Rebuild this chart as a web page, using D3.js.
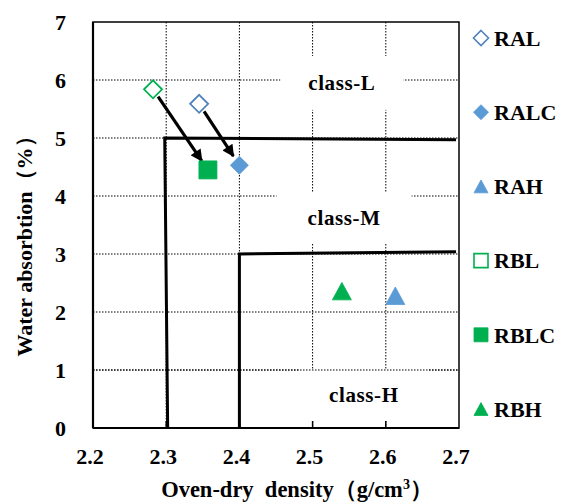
<!DOCTYPE html>
<html>
<head>
<meta charset="utf-8">
<script src="https://cdn.jsdelivr.net/npm/d3@7"></script>
<style>
  body { margin: 0; background: #fff; }
  svg text { font-family: "Liberation Serif", "Times New Roman", serif; font-weight: bold; fill: #000; }
</style>
</head>
<body>
<div id="svg-container"></div>
<script>
////////////////////////////  Data  ///////////////////////////////
const seriesNames = ["RAL", "RALC", "RAH", "RBL", "RBLC", "RBH"];
const densities = [2.345, 2.4, 2.613, 2.282, 2.357, 2.54];
const absorptions = [5.59, 4.53, 2.28, 5.84, 4.45, 2.36];
const seriesColors = ["#4f81bd", "#5b9bd5", "#5b9bd5", "#00b050", "#00b050", "#00b050"];
const seriesFilled = [false, true, true, false, true, true];
const plotShapes = ["diamond", "diamond", "triangle", "diamond", "square", "triangle"];
const legendShapes = ["diamond", "diamond", "triangle", "square", "square", "triangle"];

// arrows: from -> to
const arrowPairs = [["RBL", "RBLC"], ["RAL", "RALC"]];

// class boundary lines
const boundaryL = [[2.302, 0], [2.298, 5], [2.696, 4.97]];
const boundaryM = [[2.4, 0], [2.4, 3.0], [2.696, 3.04]];

// class labels
const classLabels = ["class-L", "class-M", "class-H"];
const classLabelX = [2.54, 2.543, 2.57];
const classLabelY = [5.95, 3.62, 0.57];

const xTicks = [2.2, 2.3, 2.4, 2.5, 2.6, 2.7];
const yTicks = [0, 1, 2, 3, 4, 5, 6, 7];

////////////////////////////  Init  ///////////////////////////////
const width = 567;
const height = 504;
const margin = { top: 22, right: 108, bottom: 76, left: 93 };

const svg = d3.select("#svg-container").append("svg")
  .attr("width", width).attr("height", height);

const xScale = d3.scaleLinear().domain([2.2, 2.7]).range([margin.left, width - margin.right]);
const yScale = d3.scaleLinear().domain([0, 7]).range([height - margin.bottom, margin.top]);

const x0 = xScale.range()[0], x1 = xScale.range()[1];
const yb = yScale.range()[0], yt = yScale.range()[1];

// shape path helper (s = box size)
function shapePath(shape, s) {
  const h = s / 2;
  if (shape === "diamond") return `M0,${-h}L${h},0L0,${h}L${-h},0Z`;
  if (shape === "square") return `M${-h},${-h}H${h}V${h}H${-h}Z`;
  const th = s * 0.92 / 2;
  return `M0,${-th}L${h},${th}L${-h},${th}Z`;
}

const innerX = xTicks.filter((d) => d > 2.2 && d < 2.7);

// gridlines
svg.append("g").selectAll("line")
  .data(yTicks.filter((d) => d > 0 && d < 7))
  .join("line")
  .attr("x1", x0).attr("x2", x1)
  .attr("y1", (d) => yScale(d)).attr("y2", (d) => yScale(d))
  .attr("stroke", "#000").attr("stroke-width", 1).attr("stroke-dasharray", "1.5,1.5");

svg.append("g").selectAll("line")
  .data(innerX)
  .join("line")
  .attr("x1", (d) => xScale(d)).attr("x2", (d) => xScale(d))
  .attr("y1", yt).attr("y2", yb)
  .attr("stroke", "#000").attr("stroke-width", 1).attr("stroke-dasharray", "1.5,1.5");

// white boxes behind class labels
const boxW = [123, 135, 130];
const boxH = [54, 50, 52];
classLabels.forEach((t, i) => {
  const cx = xScale(classLabelX[i]);
  const cy = yScale(classLabelY[i]);
  svg.append("rect")
    .attr("x", cx - boxW[i] / 2).attr("y", cy - boxH[i] / 2)
    .attr("width", boxW[i]).attr("height", boxH[i])
    .attr("fill", "#fff");
});

// inner ticks on the bottom (over the class-H box)
svg.append("g").selectAll("line")
  .data(innerX)
  .join("line")
  .attr("x1", (d) => xScale(d)).attr("x2", (d) => xScale(d))
  .attr("y1", yb - 7).attr("y2", yb)
  .attr("stroke", "#000").attr("stroke-width", 1.5);

svg.append("line")
  .attr("x1", x0).attr("x2", x1)
  .attr("y1", yScale(1)).attr("y2", yScale(1))
  .attr("stroke", "#000").attr("stroke-width", 1).attr("stroke-dasharray", "1.5,1.5");

// frame
svg.append("rect")
  .attr("x", x0).attr("y", yt)
  .attr("width", x1 - x0).attr("height", yb - yt)
  .attr("fill", "none").attr("stroke", "#000").attr("stroke-width", 1.5);
svg.append("line").attr("x1", x0).attr("x2", x0).attr("y1", yt).attr("y2", yb)
  .attr("stroke", "#000").attr("stroke-width", 2.2);
svg.append("line").attr("x1", x0).attr("x2", x1).attr("y1", yb).attr("y2", yb)
  .attr("stroke", "#000").attr("stroke-width", 2.2);

// class labels
svg.append("g").selectAll("text")
  .data(classLabels)
  .join("text")
  .attr("x", (d, i) => xScale(classLabelX[i]))
  .attr("y", (d, i) => yScale(classLabelY[i]))
  .attr("dy", "0.35em")
  .attr("text-anchor", "middle")
  .attr("font-size", 21)
  .attr("letter-spacing", 0.6)
  .text((d) => d);

// boundary lines
const line = d3.line().x((d) => xScale(d[0])).y((d) => yScale(d[1]));
[boundaryL, boundaryM].forEach((b) => {
  svg.append("path")
    .attr("d", line(b))
    .attr("fill", "none").attr("stroke", "#000").attr("stroke-width", 3);
});

// arrows
svg.append("defs").append("marker")
  .attr("id", "arrowhead")
  .attr("viewBox", "0 0 10 10")
  .attr("refX", 9).attr("refY", 5)
  .attr("markerUnits", "userSpaceOnUse")
  .attr("markerWidth", 13).attr("markerHeight", 12)
  .attr("orient", "auto")
  .append("path").attr("d", "M0,0L10,5L0,10Z").attr("fill", "#000");

arrowPairs.forEach(([from, to]) => {
  const a = seriesNames.indexOf(from), b = seriesNames.indexOf(to);
  const ax = xScale(densities[a]), ay = yScale(absorptions[a]);
  const bx = xScale(densities[b]), by = yScale(absorptions[b]);
  const len = Math.hypot(bx - ax, by - ay);
  const ux = (bx - ax) / len, uy = (by - ay) / len;
  svg.append("line")
    .attr("x1", ax + ux * 9).attr("y1", ay + uy * 9)
    .attr("x2", bx - ux * 11).attr("y2", by - uy * 11)
    .attr("stroke", "#000").attr("stroke-width", 3.2)
    .attr("marker-end", "url(#arrowhead)");
});

// points
svg.append("g").selectAll("path")
  .data(seriesNames)
  .join("path")
  .attr("transform", (d, i) => `translate(${xScale(densities[i])},${yScale(absorptions[i])})`)
  .attr("d", (d, i) => shapePath(plotShapes[i], plotShapes[i] === "triangle" ? 19 : 18))
  .attr("fill", (d, i) => (seriesFilled[i] ? seriesColors[i] : "#fff"))
  .attr("stroke", (d, i) => seriesColors[i])
  .attr("stroke-width", (d, i) => (seriesFilled[i] ? 0.8 : 1.8));

// axis labels
svg.append("g").selectAll("text")
  .data(yTicks)
  .join("text")
  .attr("x", x0 - 27).attr("y", (d) => yScale(d))
  .attr("dy", "0.35em")
  .attr("text-anchor", "end")
  .attr("font-size", 22)
  .text((d) => d);

svg.append("g").selectAll("text")
  .data(xTicks)
  .join("text")
  .attr("x", (d) => xScale(d) - 3).attr("y", yb + 36)
  .attr("text-anchor", "middle")
  .attr("font-size", 22)
  .text((d) => d3.format(".1f")(d));

// Units
svg.append("text")
  .attr("x", 297).attr("y", 497)
  .attr("text-anchor", "middle")
  .attr("font-size", 22.5)
  .attr("xml:space", "preserve")
  .html("Oven-dry  density（g/cm<tspan dy='-8' font-size='14'>3</tspan><tspan dy='8'>）</tspan>");

svg.append("text")
  .attr("transform", "translate(32,241) rotate(-90)")
  .attr("text-anchor", "middle")
  .attr("font-size", 22)
  .text("Water absorbtion（%）");

// Legend
const legend = svg.append("g").selectAll("g")
  .data(seriesNames)
  .join("g")
  .attr("transform", (d, i) => `translate(481,${38 + 74.2 * i})`);

legend.append("path")
  .attr("d", (d, i) => shapePath(legendShapes[i], legendShapes[i] === "diamond" ? 15 : 14))
  .attr("fill", (d, i) => (seriesFilled[i] ? seriesColors[i] : "#fff"))
  .attr("stroke", (d, i) => seriesColors[i])
  .attr("stroke-width", (d, i) => (seriesFilled[i] ? 0.8 : 1.6));

legend.append("text")
  .attr("x", 13).attr("dy", "0.35em")
  .attr("font-size", 22)
  .text((d) => d);
</script>
</body>
</html>
